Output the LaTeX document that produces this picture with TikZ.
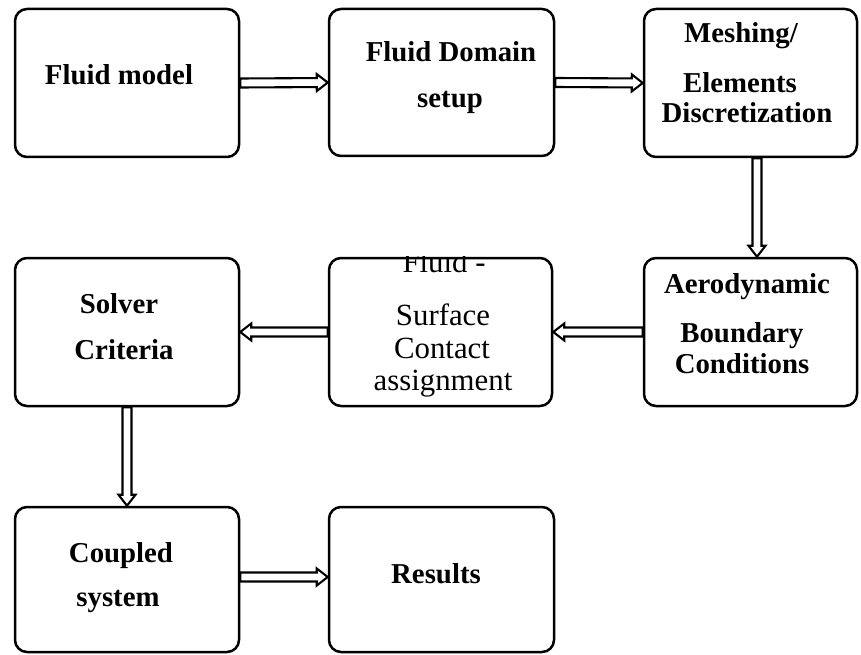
\documentclass[tikz,border=0pt]{standalone}
\usepackage{fontspec}
\setmainfont{Liberation Serif}
\usetikzlibrary{calc}
\tikzset{
  box/.style={draw, line width=2.5pt, rounded corners=12pt, rectangle, inner sep=0pt},
  bt/.style={anchor=base, inner sep=0pt, font=\bfseries\fontsize{28.8}{30}\selectfont},
  rt/.style={anchor=base, inner sep=0pt, font=\fontsize{30.8}{33}\selectfont},
  harrow/.style={draw, line width=2.1pt, fill=white, line join=miter,
    to path={
      ($(\tikztostart)!4.5pt!90:(\tikztotarget)$) --
      ($(\tikztotarget)!11pt!(\tikztostart)!4.5pt!-90:(\tikztostart)$) --
      ($(\tikztotarget)!11pt!(\tikztostart)!8.5pt!-90:(\tikztostart)$) --
      (\tikztotarget) --
      ($(\tikztotarget)!11pt!(\tikztostart)!8.5pt!90:(\tikztostart)$) --
      ($(\tikztotarget)!11pt!(\tikztostart)!4.5pt!90:(\tikztostart)$) --
      ($(\tikztostart)!4.5pt!-90:(\tikztotarget)$) -- cycle}}
}
\begin{document}
\begin{tikzpicture}[x=1pt,y=-1pt]
\useasboundingbox[fill=white] (0,0) rectangle (861,655);
% boxes
\node[box, minimum width=224pt, minimum height=148pt] (b1) at (127,83) {};
\node[box, minimum width=225pt, minimum height=147pt] (b2) at (441.5,82.5) {};
\node[box, minimum width=213pt, minimum height=148pt] (b3) at (750.5,83) {};
\node[box, minimum width=224pt, minimum height=148pt] (b4) at (127,332) {};
\node[box, minimum width=223pt, minimum height=148pt] (b5) at (440.5,332) {};
\node[box, minimum width=213pt, minimum height=148pt] (b6) at (750.5,332) {};
\node[box, minimum width=224pt, minimum height=145pt] (b7) at (127,579.5) {};
\node[box, minimum width=225pt, minimum height=145pt] (b8) at (441.5,579.5) {};
% texts
\node[bt] (t1) at (119,85) {Fluid model};
\node[bt] (t2a) at (451,62) {Fluid Domain};
\node[bt] (t2b) at (450,108) {setup};
\node[bt] (t3a) at (741,43) {Meshing/};
\node[bt] (t3b) at (740,93) {Elements};
\node[bt] (t3c) at (747,123) {Discretization};
\node[bt] (t6a) at (747,293) {Aerodynamic};
\node[bt] (t6b) at (742,342) {Boundary};
\node[bt] (t6c) at (742,373) {Conditions};
\begin{scope}
\clip (328,256.5) rectangle (553,407);
\node[rt] (t5a) at (444,272) {Fluid -};
\end{scope}
\node[rt] (t5b) at (443,325) {Surface};
\node[rt] (t5c) at (442,358) {Contact};
\node[rt] (t5d) at (443,390) {assignment};
\node[bt] (t4a) at (119,313) {Solver};
\node[bt] (t4b) at (124,359) {Criteria};
\node[bt] (t7a) at (121,562) {Coupled};
\node[bt] (t7b) at (118,606) {system};
\node[bt] (t8) at (436,583) {Results};
% arrows
\path[harrow] (b1.east) to (b2.west);
\path[harrow] (b2.east) to (b3.west);
\path[harrow] ([xshift=6.5pt]b3.south) to ([xshift=6.5pt]b6.north);
\path[harrow] (b6.west) to (b5.east);
\path[harrow] (b5.west) to (b4.east);
\path[harrow] (b4.south) to (b7.north);
\path[harrow] ([yshift=2.5pt]b7.east) to ([yshift=2.5pt]b8.west);
\end{tikzpicture}
\end{document}
